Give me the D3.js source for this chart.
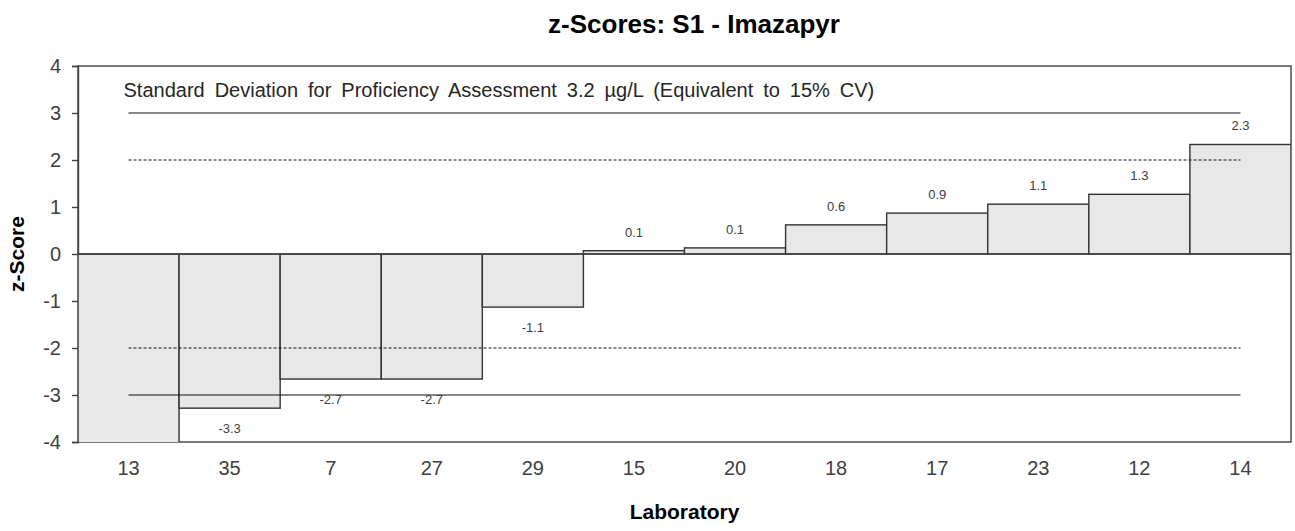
<!DOCTYPE html>
<html>
<head>
<meta charset="utf-8">
<script src="https://cdn.jsdelivr.net/npm/d3@7"></script>
<style>
  body { margin: 0; background: #fff; }
  text { font-family: Arial, "Liberation Sans", sans-serif; }
</style>
</head>
<body>
<svg id="chart" width="1295" height="531"></svg>
<script>
// laboratories in plotted order
var labs = ["13", "35", "7", "27", "29", "15", "20", "18", "17", "23", "12", "14"];
// z-scores (lab 13 runs off the bottom of the axis)
var zScores = [-4.6, -3.28, -2.66, -2.66, -1.13, 0.07, 0.13, 0.62, 0.87, 1.06, 1.27, 2.33];
var yTicks = [-4, -3, -2, -1, 0, 1, 2, 3, 4];
// warning (dashed) and action (solid) limits
var limits = [
  {z: 3, dash: null}, {z: 2, dash: "3,2"},
  {z: -2, dash: "3,2"}, {z: -3, dash: null}
];
var title = "z-Scores: S1 - Imazapyr";
var note = "Standard Deviation for Proficiency Assessment 3.2 \u00b5g/L  (Equivalent to 15% CV)";

var plot = {left: 78, right: 1291, top: 66, bottom: 442};
var font = "Arial, 'Liberation Sans', sans-serif";

var svg = d3.select("#chart");

var x = d3.scaleBand().domain(labs).range([plot.left, plot.right]).padding(0);
var y = d3.scaleLinear().domain([-4, 4]).range([plot.bottom, plot.top]);

// plain hyphen for negatives, like the original
var fmt1 = function(v){ return (Math.round(v * 10) / 10).toFixed(1); };

svg.append("defs").append("clipPath").attr("id", "plotclip")
  .append("rect")
  .attr("x", plot.left).attr("y", plot.top)
  .attr("width", plot.right - plot.left).attr("height", plot.bottom - plot.top);

// plot frame
svg.append("rect")
  .attr("x", plot.left).attr("y", plot.top)
  .attr("width", plot.right - plot.left).attr("height", plot.bottom - plot.top)
  .attr("fill", "none").attr("stroke", "#404040").attr("stroke-width", 1.4);

// y axis
var yAxis = svg.append("g")
  .attr("transform", "translate(" + plot.left + ",0)")
  .call(d3.axisLeft(y).tickValues(yTicks).tickSize(6).tickPadding(11)
    .tickFormat(function(d){ return String(d); }));
yAxis.select(".domain").attr("stroke", "#404040").attr("stroke-width", 1.4);
yAxis.selectAll(".tick line").attr("stroke", "#404040").attr("stroke-width", 1.4);
yAxis.selectAll(".tick text")
  .attr("font-size", 20).attr("fill", "#404040").attr("font-family", font);

// x axis labels (no tick marks)
var xAxis = svg.append("g")
  .attr("transform", "translate(0," + plot.bottom + ")")
  .call(d3.axisBottom(x).tickSize(0).tickPadding(19));
xAxis.select(".domain").remove();
xAxis.selectAll(".tick text")
  .attr("font-size", 20).attr("fill", "#404040").attr("font-family", font);

// bars
var data = labs.map(function(l, i){ return {lab: l, z: zScores[i]}; });

svg.append("g").attr("clip-path", "url(#plotclip)")
  .selectAll("rect")
  .data(data)
  .enter().append("rect")
  .attr("x", function(d){ return x(d.lab); })
  .attr("width", x.bandwidth())
  .attr("y", function(d){ return Math.min(y(d.z), y(0)); })
  .attr("height", function(d){ return Math.abs(y(d.z) - y(0)); })
  .attr("fill", "#e8e8e8")
  .attr("stroke", "#333")
  .attr("stroke-width", 1.4);

// zero line
svg.append("line")
  .attr("x1", plot.left).attr("x2", plot.right)
  .attr("y1", y(0)).attr("y2", y(0))
  .attr("stroke", "#404040").attr("stroke-width", 1.4);

// limit lines, from first to last lab centre
var xFirst = x(labs[0]) + x.bandwidth() / 2;
var xLast = x(labs[labs.length - 1]) + x.bandwidth() / 2;
svg.append("g").selectAll("line")
  .data(limits)
  .enter().append("line")
  .attr("x1", xFirst).attr("x2", xLast)
  .attr("y1", function(d){ return y(d.z); })
  .attr("y2", function(d){ return y(d.z); })
  .attr("stroke", "#111")
  .attr("stroke-width", 1.1)
  .attr("stroke-dasharray", function(d){ return d.dash; });

// value labels (skip the one that falls off the axis)
svg.append("g").selectAll("text")
  .data(data.filter(function(d){ return d.z >= -4 && d.z <= 4; }))
  .enter().append("text")
  .attr("x", function(d){ return x(d.lab) + x.bandwidth() / 2; })
  .attr("y", function(d){ return d.z >= 0 ? y(d.z) - 14 : y(d.z) + 25; })
  .attr("text-anchor", "middle")
  .attr("font-size", 13)
  .attr("fill", "#404040")
  .text(function(d){ return fmt1(d.z); });

// note
svg.append("text")
  .attr("x", xFirst - 5).attr("y", 97)
  .attr("font-size", 20).attr("fill", "#262626")
  .attr("word-spacing", 4.4)
  .text(note);

// titles
svg.append("text")
  .attr("x", 694).attr("y", 33)
  .attr("text-anchor", "middle")
  .attr("font-size", 26).attr("font-weight", "bold").attr("fill", "#000")
  .text(title);

svg.append("text")
  .attr("x", (plot.left + plot.right) / 2).attr("y", 519)
  .attr("text-anchor", "middle")
  .attr("font-size", 21).attr("font-weight", "bold").attr("fill", "#000")
  .text("Laboratory");

svg.append("text")
  .attr("transform", "translate(24," + y(0) + ") rotate(-90)")
  .attr("text-anchor", "middle")
  .attr("font-size", 21).attr("font-weight", "bold").attr("fill", "#000")
  .text("z-Score");
</script>
</body>
</html>
